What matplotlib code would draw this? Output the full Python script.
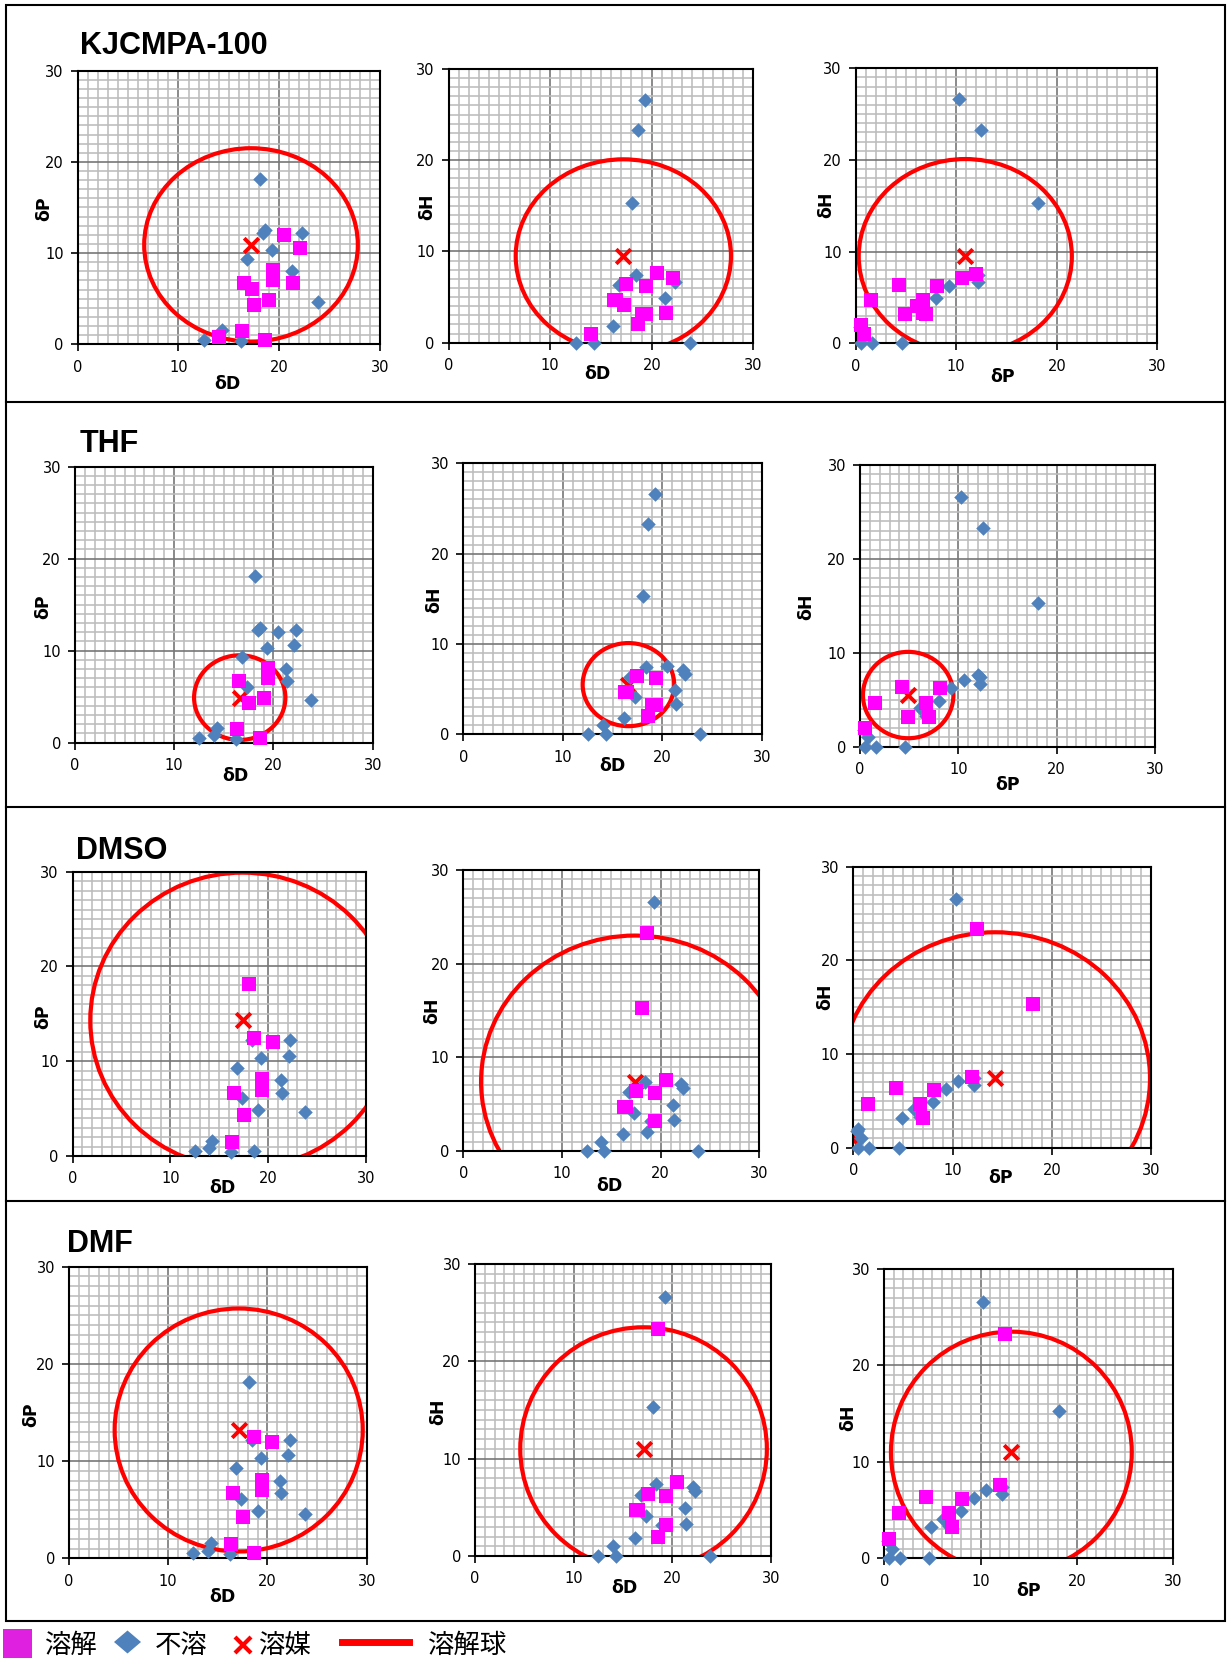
import matplotlib
matplotlib.use('Agg')
import matplotlib.pyplot as plt
from matplotlib.patches import Circle, Rectangle, Polygon
from matplotlib.ticker import MultipleLocator

W, H = 1227, 1660

# ---- solvent Hansen parameters (same test solvents in every panel) ----
dD = [12.5, 14.3, 16.2, 14.0, 18.6, 16.3, 23.8, 19.3, 18.6, 18.1, 18.4, 22.3,
      16.8, 21.3, 20.5, 22.1, 19.4, 19.4, 21.4, 17.3, 17.5, 19.0, 16.5]
dP = [0.5, 1.6, 0.4, 0.8, 0.5, 1.5, 4.6, 10.3, 12.5, 18.1, 12.2, 12.2,
      9.3, 8.0, 12.0, 10.6, 8.1, 7.0, 6.7, 6.1, 4.3, 4.9, 6.7]
dH = [0.0, 0.0, 1.8, 1.0, 2.0, 4.7, 0.0, 26.6, 23.3, 15.3, 7.4, 6.7,
      6.3, 4.9, 7.6, 7.1, 6.2, 3.2, 3.3, 4.1, 6.4, 3.2, 4.7]

# ---- solubility result per row (1 = 溶解, 0 = 不溶) ----
row_titles = ['KJCMPA-100', 'THF', 'DMSO', 'DMF']
soluble_kjcmpa = [0, 0, 0, 1, 1, 1, 0, 0, 0, 0, 0, 0, 0, 0, 1, 1, 1, 1, 1, 1, 1, 1, 1]
soluble_thf    = [0, 0, 0, 0, 1, 1, 0, 0, 0, 0, 0, 0, 0, 0, 0, 0, 1, 1, 0, 0, 1, 1, 1]
soluble_dmso   = [0, 0, 0, 0, 0, 1, 0, 0, 1, 1, 0, 0, 0, 0, 1, 0, 1, 1, 0, 0, 1, 0, 1]
soluble_dmf    = [0, 0, 0, 0, 1, 1, 0, 0, 1, 0, 0, 0, 0, 0, 1, 0, 1, 1, 0, 0, 1, 0, 1]
soluble_rows = [soluble_kjcmpa, soluble_thf, soluble_dmso, soluble_dmf]

# ---- sphere centre (溶媒) and radius (溶解球) per row ----
center_D = [17.2, 16.6, 17.4, 17.1]
center_P = [10.9, 4.9, 14.3, 13.2]
center_H = [9.5, 5.5, 7.4, 11.0]
radius = [10.6, 4.6, 15.6, 12.5]

axis_names = ['δD', 'δP', 'δH']
pairs = [(0, 1), (0, 2), (1, 2)]
tick_values = [0, 10, 20, 30]

# ---- layout (pixels) ----
panel_px = [
    [(77.7, 380.0, 70.7, 344.3), (448.7, 753.3, 69.0, 342.7), (855.7, 1157.3, 68.3, 343.3)],
    [(75.0, 372.7, 466.7, 742.7), (463.3, 761.7, 463.3, 734.3), (860.0, 1155.0, 465.0, 746.7)],
    [(72.7, 365.7, 871.7, 1156.0), (463.3, 759.3, 870.0, 1151.0), (853.3, 1151.0, 866.7, 1147.7)],
    [(69.0, 366.7, 1266.7, 1558.3), (474.9, 770.8, 1264.0, 1556.0), (884.2, 1173.2, 1269.0, 1558.3)],
]
ylabel_px = [[(44, 209), (427, 207), (826, 205)],
             [(43, 607), (434, 600), (806, 607)],
             [(43, 1017), (432, 1011), (825, 997)],
             [(31, 1415), (438, 1412), (848, 1418)]]
xlabel_px = [[(227, 384), (597, 374), (1003, 377)],
             [(235, 776), (612, 766), (1008, 785)],
             [(222, 1188), (609, 1186), (1001, 1178)],
             [(222, 1597), (624, 1588), (1029, 1591)]]
title_px = [(80, 54), (80, 452), (76, 859), (67, 1252)]

fig = plt.figure(figsize=(W / 100, H / 100), dpi=100)
fig.patch.set_facecolor('white')

# overlay axes in pixel coordinates for frames, titles, legend
ov = fig.add_axes([0, 0, 1, 1], zorder=-1)
ov.set_xlim(0, W)
ov.set_ylim(H, 0)
ov.axis('off')

MAG = '#FF00FF'
BLUE = '#4F81BD'
RED = '#FF0000'

for r in range(4):
    sol = soluble_rows[r]
    center = [center_D[r], center_P[r], center_H[r]]
    vals = [dD, dP, dH]
    for c, (ix, iy) in enumerate(pairs):
        x0, x30, y30, y0 = panel_px[r][c]
        ax = fig.add_axes([x0 / W, 1 - y0 / H, (x30 - x0) / W, (y0 - y30) / H])
        ax.set_xlim(0, 30)
        ax.set_ylim(0, 30)
        ax.set_xticks(tick_values)
        ax.set_yticks(tick_values)
        ax.xaxis.set_minor_locator(MultipleLocator(1))
        ax.yaxis.set_minor_locator(MultipleLocator(1))
        ax.set_axisbelow(True)
        ax.grid(which='minor', color='#bcbcbc', lw=1.15)
        ax.grid(which='major', color='#777777', lw=1.2)
        ax.tick_params(which='minor', length=0)
        ax.tick_params(which='major', length=5, width=1.2, direction='out',
                       labelsize=10.5, color='black')
        ax.tick_params(axis='x', pad=6)
        ax.tick_params(axis='y', pad=5)
        for sp in ax.spines.values():
            sp.set_color('black')
            sp.set_linewidth(1.5)

        xs = vals[ix]
        ys = vals[iy]
        xin = [xs[i] for i in range(len(xs)) if not sol[i]]
        yin = [ys[i] for i in range(len(xs)) if not sol[i]]
        xso = [xs[i] for i in range(len(xs)) if sol[i]]
        yso = [ys[i] for i in range(len(xs)) if sol[i]]

        circ = Circle((center[ix], center[iy]), radius[r], fill=False,
                      edgecolor=RED, lw=3.0, zorder=2)
        ax.add_patch(circ)
        ax.scatter([center[ix]], [center[iy]], marker='x', s=110, c=RED,
                   linewidths=2.8, zorder=3, clip_on=False)
        ax.scatter(xin, yin, marker='D', s=55, c=BLUE, linewidths=0,
                   zorder=4, clip_on=False)
        ax.scatter(xso, yso, marker='s', s=115, c=MAG, linewidths=0,
                   zorder=5, clip_on=False)

        # axis labels
        lx, ly = xlabel_px[r][c]
        ax.set_xlabel(axis_names[ix], fontsize=12.5, fontweight='bold')
        ax.xaxis.set_label_coords((lx - x0) / (x30 - x0), (y0 - ly) / (y0 - y30))
        ax.xaxis.label.set_va('center')
        yx, yy = ylabel_px[r][c]
        ax.set_ylabel(axis_names[iy], fontsize=12.5, fontweight='bold')
        ax.yaxis.set_label_coords((yx - x0) / (x30 - x0), (y0 - yy) / (y0 - y30))
        ax.yaxis.label.set_va('center')
        ax.yaxis.label.set_ha('center')

    tx, ty = title_px[r]
    ov.text(tx, ty, row_titles[r], fontsize=22, fontweight='bold',
            family='Liberation Sans', ha='left', va='baseline')

# row frames
left, right, top, bottom = 6, 1225, 5, 1621
ov.add_patch(Rectangle((left, top), right - left, bottom - top, fill=False,
                       edgecolor='black', lw=1.5))
for yline in [402, 807, 1201]:
    ov.plot([left, right], [yline, yline], color='black', lw=1.5)

# legend
jp = ['Noto Sans CJK JP', 'DejaVu Sans']
ov.add_patch(Rectangle((3, 1629), 29, 29, facecolor='#E020E0', edgecolor='none'))
ov.text(44, 1645, '溶解', fontsize=19, family=jp, ha='left', va='center')
ov.add_patch(Polygon([(114, 1642), (127.5, 1630.5), (141, 1642), (127.5, 1653.5)],
                     closed=True, facecolor=BLUE, edgecolor='none'))
ov.text(155, 1645, '不溶', fontsize=19, family=jp, ha='left', va='center')
ov.plot([243], [1645], marker='x', ms=11, mew=3, color=RED, ls='none')
ov.text(258, 1645, '溶媒', fontsize=19, family=jp, ha='left', va='center')
ov.plot([342, 409], [1642, 1642], color=RED, lw=5)
ov.text(427, 1645, '溶解球', fontsize=19, family=jp, ha='left', va='center')

fig.savefig('out.png', dpi=100, facecolor='white')
